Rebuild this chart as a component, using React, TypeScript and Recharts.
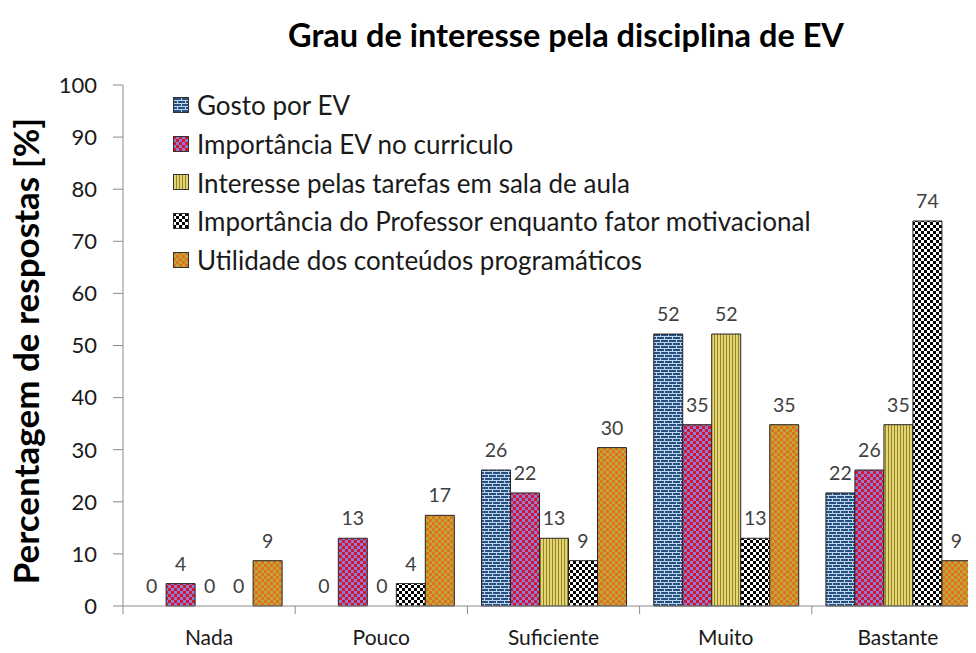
import React from 'react';
import { BarChart, Bar, XAxis, YAxis, LabelList, Cell } from 'recharts';

// ─── Data ─────────────────────────────────────────────────────────────────────

const CATEGORIES = ['Nada', 'Pouco', 'Suficiente', 'Muito', 'Bastante'];

const GOSTO = [0, 0, 26.1, 52.2, 21.7];
const IMPORTANCIA_CURRICULO = [4.3, 13.0, 21.7, 34.8, 26.1];
const INTERESSE_TAREFAS = [0, 0, 13.0, 52.2, 34.8];
const IMPORTANCIA_PROFESSOR = [0, 4.3, 8.7, 13.0, 73.9];
const UTILIDADE = [8.7, 17.4, 30.4, 34.8, 8.7];

const Y_TICKS = [0, 10, 20, 30, 40, 50, 60, 70, 80, 90, 100];

const SERIES = [
  { key: 'gosto', name: 'Gosto por EV', values: GOSTO, pattern: 'pat-brick' },
  { key: 'curriculo', name: 'Importância EV no curriculo', values: IMPORTANCIA_CURRICULO, pattern: 'pat-redcheck' },
  { key: 'tarefas', name: 'Interesse pelas tarefas em sala de aula', values: INTERESSE_TAREFAS, pattern: 'pat-stripes' },
  { key: 'professor', name: 'Importância do Professor enquanto fator motivacional', values: IMPORTANCIA_PROFESSOR, pattern: 'pat-bwcheck' },
  { key: 'utilidade', name: 'Utilidade dos conteúdos programáticos', values: UTILIDADE, pattern: 'pat-orangecheck' },
];

const chartData = CATEGORIES.map((cat, i) => {
  const row: Record<string, string | number> = { name: cat };
  SERIES.forEach((s) => {
    row[s.key] = s.values[i];
  });
  return row;
});

// ─── Layout constants ─────────────────────────────────────────────────────────

const FONT = 'Lato, "Open Sans", sans-serif';
const CHART_W = 990;
const CHART_H = 653;
const Y_AXIS_W = 123;
const MARGIN = { top: 85, right: 6, left: 0, bottom: 17 };
const AXIS_COLOR = '#8c8c8c';
const TEXT_COLOR = '#1a1a1a';
const LABEL_COLOR = '#404040';
const BAR_STROKE = '#262626';

// ─── Fill patterns ────────────────────────────────────────────────────────────

function PatternDefs() {
  return (
    <svg width={0} height={0} style={{ position: 'absolute' }}>
      <defs>
        <pattern id="pat-brick" width={8} height={6} patternUnits="userSpaceOnUse">
          <rect width={8} height={6} fill="#28507f" />
          <line x1={0} y1={0.5} x2={8} y2={0.5} stroke="#bcd4ee" strokeWidth={1} />
          <line x1={0} y1={3.5} x2={8} y2={3.5} stroke="#bcd4ee" strokeWidth={1} />
          <line x1={0.5} y1={0} x2={0.5} y2={3} stroke="#bcd4ee" strokeWidth={1} />
          <line x1={4.5} y1={3} x2={4.5} y2={6} stroke="#bcd4ee" strokeWidth={1} />
        </pattern>
        <pattern id="pat-redcheck" width={6} height={6} patternUnits="userSpaceOnUse">
          <rect width={6} height={6} fill="#8c7ed6" />
          <rect width={3} height={3} fill="#d8132e" />
          <rect x={3} y={3} width={3} height={3} fill="#d8132e" />
        </pattern>
        <pattern id="pat-stripes" width={3} height={3} patternUnits="userSpaceOnUse">
          <rect width={3} height={3} fill="#e4d474" />
          <rect width={1} height={3} fill="#938428" />
        </pattern>
        <pattern id="pat-bwcheck" width={6} height={6} patternUnits="userSpaceOnUse">
          <rect width={6} height={6} fill="#ffffff" />
          <rect width={3} height={3} fill="#000000" />
          <rect x={3} y={3} width={3} height={3} fill="#000000" />
        </pattern>
        <pattern id="pat-orangecheck" width={6} height={6} patternUnits="userSpaceOnUse">
          <rect width={6} height={6} fill="#bca83a" />
          <rect width={3} height={3} fill="#e2701e" />
          <rect x={3} y={3} width={3} height={3} fill="#e2701e" />
        </pattern>
      </defs>
    </svg>
  );
}

// ─── Custom pieces ────────────────────────────────────────────────────────────

function CategoryTick(props: any) {
  const { x, y, payload, index } = props;
  const plotW = CHART_W - MARGIN.left - MARGIN.right - Y_AXIS_W;
  const half = payload?.offset || plotW / CATEGORIES.length / 2;
  return (
    <g>
      <line x1={x - half} y1={y} x2={x - half} y2={y + 8} stroke={AXIS_COLOR} />
      {index === CATEGORIES.length - 1 && (
        <line x1={x + half} y1={y} x2={x + half} y2={y + 8} stroke={AXIS_COLOR} />
      )}
      <text x={x} y={y + 39} textAnchor="middle" fill={TEXT_COLOR} fontSize={21} fontFamily={FONT}>
        {payload.value}
      </text>
    </g>
  );
}

function LegendBox() {
  return (
    <div style={{ position: 'absolute', left: 173, top: 86, display: 'flex', flexDirection: 'column' }}>
      {SERIES.map((s) => (
        <div key={s.key} style={{ display: 'flex', alignItems: 'center', height: 38.7 }}>
          <svg width={17} height={17} style={{ marginRight: 7 }}>
            <rect x={0.5} y={0.5} width={15} height={15} fill={`url(#${s.pattern})`} stroke="#333" />
          </svg>
          <span style={{ fontSize: 26, lineHeight: '30px', color: TEXT_COLOR, fontFamily: FONT, whiteSpace: 'nowrap' }}>
            {s.name}
          </span>
        </div>
      ))}
    </div>
  );
}

// zero values still get their "0" label, so give them a hair of height
const zeroMinSize = (v: any) => (Number(v) === 0 ? 0.01 : 0);

// ─── Main Export ──────────────────────────────────────────────────────────────

export default function App() {
  return (
    <div style={{ position: 'relative', margin: -8, width: 976, height: 653, overflow: 'hidden', background: '#fff' }}>
      <PatternDefs />
      <div
        style={{
          position: 'absolute',
          left: 566,
          top: 15,
          transform: 'translateX(-50%)',
          fontFamily: FONT,
          fontWeight: 700,
          fontSize: 32.5,
          lineHeight: '39px',
          color: '#000',
          whiteSpace: 'nowrap',
        }}
      >
        Grau de interesse pela disciplina de EV
      </div>
      <BarChart
        width={CHART_W}
        height={CHART_H}
        data={chartData}
        margin={MARGIN}
        barCategoryGap="8.2%"
        barGap={0}
      >
        <YAxis
          width={Y_AXIS_W}
          domain={[0, 100]}
          ticks={Y_TICKS}
          interval={0}
          stroke={AXIS_COLOR}
          tickSize={10}
          tickMargin={16}
          tick={{ fill: TEXT_COLOR, fontSize: 22, fontFamily: FONT }}
          label={{
            content: () => (
              <text
                transform="translate(39, 351) rotate(-90)"
                textAnchor="middle"
                fontSize={35}
                fontWeight={700}
                fontFamily={FONT}
                fill="#000"
              >
                Percentagem de respostas [%]
              </text>
            ),
          }}
        />
        <XAxis
          dataKey="name"
          stroke={AXIS_COLOR}
          tickLine={false}
          tickSize={0}
          tickMargin={0}
          height={30}
          interval={0}
          tick={<CategoryTick />}
        />
        {SERIES.map((s) => (
          <Bar
            key={s.key}
            dataKey={s.key}
            name={s.name}
            fill={`url(#${s.pattern})`}
            stroke={BAR_STROKE}
            strokeWidth={1}
            minPointSize={zeroMinSize}
            isAnimationActive={false}
          >
            {s.values.map((v, i) => (
              <Cell key={i} stroke={v === 0 ? 'none' : BAR_STROKE} />
            ))}
            <LabelList
              dataKey={s.key}
              position="top"
              offset={13}
              fill={LABEL_COLOR}
              fontSize={19.5}
              fontFamily={FONT}
              formatter={(v: any) => String(Math.round(Number(v)))}
            />
          </Bar>
        ))}
      </BarChart>
      <LegendBox />
    </div>
  );
}
